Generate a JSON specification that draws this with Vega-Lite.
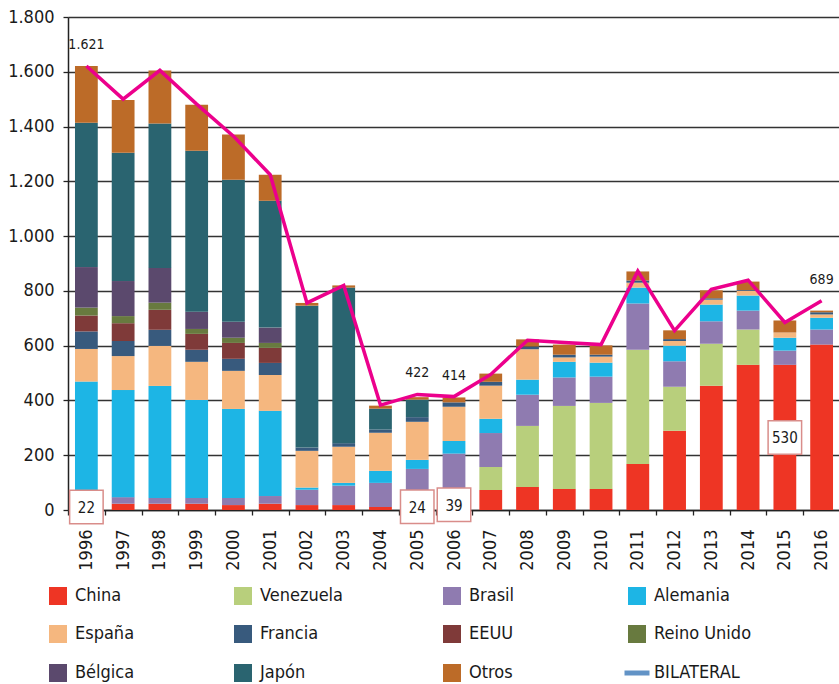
{
  "$schema": "https://vega.github.io/schema/vega-lite/v6.json",
  "autosize": "none",
  "padding": {"left": 68, "top": 17, "right": 0, "bottom": 174},
  "width": 772,
  "height": 493,
  "config": {
    "font": "DejaVu Sans Condensed, DejaVu Sans, sans-serif",
    "view": {"stroke": null},
    "locale": {"number": {"decimal": ",", "thousands": ".", "grouping": [3], "currency": ["", " €"]}}
  },
  "datasets": {
    "trade": [
      {"year": "1996", "country": "China", "value": 22}, {"year": "1996", "country": "Brasil", "value": 25}, {"year": "1996", "country": "Alemania", "value": 422}, {"year": "1996", "country": "España", "value": 119}, {"year": "1996", "country": "Francia", "value": 64}, {"year": "1996", "country": "EEUU", "value": 58}, {"year": "1996", "country": "Reino Unido", "value": 29}, {"year": "1996", "country": "Bélgica", "value": 148}, {"year": "1996", "country": "Japón", "value": 527}, {"year": "1996", "country": "Otros", "value": 207},
      {"year": "1997", "country": "China", "value": 23}, {"year": "1997", "country": "Brasil", "value": 24}, {"year": "1997", "country": "Alemania", "value": 391}, {"year": "1997", "country": "España", "value": 124}, {"year": "1997", "country": "Francia", "value": 55}, {"year": "1997", "country": "EEUU", "value": 65}, {"year": "1997", "country": "Reino Unido", "value": 26}, {"year": "1997", "country": "Bélgica", "value": 128}, {"year": "1997", "country": "Japón", "value": 468}, {"year": "1997", "country": "Otros", "value": 193},
      {"year": "1998", "country": "China", "value": 23}, {"year": "1998", "country": "Brasil", "value": 21}, {"year": "1998", "country": "Alemania", "value": 409}, {"year": "1998", "country": "España", "value": 146}, {"year": "1998", "country": "Francia", "value": 59}, {"year": "1998", "country": "EEUU", "value": 73}, {"year": "1998", "country": "Reino Unido", "value": 26}, {"year": "1998", "country": "Bélgica", "value": 127}, {"year": "1998", "country": "Japón", "value": 527}, {"year": "1998", "country": "Otros", "value": 194},
      {"year": "1999", "country": "China", "value": 23}, {"year": "1999", "country": "Brasil", "value": 21}, {"year": "1999", "country": "Alemania", "value": 358}, {"year": "1999", "country": "España", "value": 139}, {"year": "1999", "country": "Francia", "value": 44}, {"year": "1999", "country": "EEUU", "value": 58}, {"year": "1999", "country": "Reino Unido", "value": 18}, {"year": "1999", "country": "Bélgica", "value": 63}, {"year": "1999", "country": "Japón", "value": 588}, {"year": "1999", "country": "Otros", "value": 168},
      {"year": "2000", "country": "China", "value": 18}, {"year": "2000", "country": "Brasil", "value": 26}, {"year": "2000", "country": "Alemania", "value": 325}, {"year": "2000", "country": "España", "value": 139}, {"year": "2000", "country": "Francia", "value": 44}, {"year": "2000", "country": "EEUU", "value": 58}, {"year": "2000", "country": "Reino Unido", "value": 19}, {"year": "2000", "country": "Bélgica", "value": 58}, {"year": "2000", "country": "Japón", "value": 519}, {"year": "2000", "country": "Otros", "value": 165},
      {"year": "2001", "country": "China", "value": 23}, {"year": "2001", "country": "Brasil", "value": 28}, {"year": "2001", "country": "Alemania", "value": 311}, {"year": "2001", "country": "España", "value": 131}, {"year": "2001", "country": "Francia", "value": 44}, {"year": "2001", "country": "EEUU", "value": 55}, {"year": "2001", "country": "Reino Unido", "value": 18}, {"year": "2001", "country": "Bélgica", "value": 56}, {"year": "2001", "country": "Japón", "value": 463}, {"year": "2001", "country": "Otros", "value": 95},
      {"year": "2002", "country": "China", "value": 18}, {"year": "2002", "country": "Brasil", "value": 56}, {"year": "2002", "country": "Alemania", "value": 8}, {"year": "2002", "country": "España", "value": 134}, {"year": "2002", "country": "Francia", "value": 12}, {"year": "2002", "country": "Japón", "value": 518}, {"year": "2002", "country": "Otros", "value": 10},
      {"year": "2003", "country": "China", "value": 18}, {"year": "2003", "country": "Brasil", "value": 71}, {"year": "2003", "country": "Alemania", "value": 10}, {"year": "2003", "country": "España", "value": 132}, {"year": "2003", "country": "Francia", "value": 13}, {"year": "2003", "country": "Japón", "value": 568}, {"year": "2003", "country": "Otros", "value": 8},
      {"year": "2004", "country": "China", "value": 11}, {"year": "2004", "country": "Brasil", "value": 88}, {"year": "2004", "country": "Alemania", "value": 44}, {"year": "2004", "country": "España", "value": 139}, {"year": "2004", "country": "Francia", "value": 12}, {"year": "2004", "country": "Japón", "value": 76}, {"year": "2004", "country": "Otros", "value": 11},
      {"year": "2005", "country": "China", "value": 24}, {"year": "2005", "country": "Brasil", "value": 126}, {"year": "2005", "country": "Alemania", "value": 33}, {"year": "2005", "country": "España", "value": 139}, {"year": "2005", "country": "Francia", "value": 17}, {"year": "2005", "country": "Japón", "value": 64}, {"year": "2005", "country": "Otros", "value": 9},
      {"year": "2006", "country": "China", "value": 39}, {"year": "2006", "country": "Brasil", "value": 167}, {"year": "2006", "country": "Alemania", "value": 46}, {"year": "2006", "country": "España", "value": 125}, {"year": "2006", "country": "Francia", "value": 16}, {"year": "2006", "country": "Otros", "value": 18},
      {"year": "2007", "country": "China", "value": 73}, {"year": "2007", "country": "Venezuela", "value": 84}, {"year": "2007", "country": "Brasil", "value": 124}, {"year": "2007", "country": "Alemania", "value": 52}, {"year": "2007", "country": "España", "value": 121}, {"year": "2007", "country": "Francia", "value": 14}, {"year": "2007", "country": "Otros", "value": 30},
      {"year": "2008", "country": "China", "value": 84}, {"year": "2008", "country": "Venezuela", "value": 223}, {"year": "2008", "country": "Brasil", "value": 114}, {"year": "2008", "country": "Alemania", "value": 55}, {"year": "2008", "country": "España", "value": 111}, {"year": "2008", "country": "Francia", "value": 10}, {"year": "2008", "country": "Otros", "value": 26},
      {"year": "2009", "country": "China", "value": 77}, {"year": "2009", "country": "Venezuela", "value": 303}, {"year": "2009", "country": "Brasil", "value": 104}, {"year": "2009", "country": "Alemania", "value": 57}, {"year": "2009", "country": "España", "value": 16}, {"year": "2009", "country": "Francia", "value": 10}, {"year": "2009", "country": "Otros", "value": 37},
      {"year": "2010", "country": "China", "value": 77}, {"year": "2010", "country": "Venezuela", "value": 314}, {"year": "2010", "country": "Brasil", "value": 96}, {"year": "2010", "country": "Alemania", "value": 51}, {"year": "2010", "country": "España", "value": 22}, {"year": "2010", "country": "Francia", "value": 7}, {"year": "2010", "country": "Otros", "value": 34},
      {"year": "2011", "country": "China", "value": 168}, {"year": "2011", "country": "Venezuela", "value": 417}, {"year": "2011", "country": "Brasil", "value": 169}, {"year": "2011", "country": "Alemania", "value": 58}, {"year": "2011", "country": "España", "value": 18}, {"year": "2011", "country": "Francia", "value": 8}, {"year": "2011", "country": "Otros", "value": 33},
      {"year": "2012", "country": "China", "value": 289}, {"year": "2012", "country": "Venezuela", "value": 161}, {"year": "2012", "country": "Brasil", "value": 93}, {"year": "2012", "country": "Alemania", "value": 57}, {"year": "2012", "country": "España", "value": 17}, {"year": "2012", "country": "Francia", "value": 7}, {"year": "2012", "country": "Otros", "value": 32},
      {"year": "2013", "country": "China", "value": 454}, {"year": "2013", "country": "Venezuela", "value": 153}, {"year": "2013", "country": "Brasil", "value": 82}, {"year": "2013", "country": "Alemania", "value": 61}, {"year": "2013", "country": "España", "value": 18}, {"year": "2013", "country": "Francia", "value": 5}, {"year": "2013", "country": "Otros", "value": 29},
      {"year": "2014", "country": "China", "value": 530}, {"year": "2014", "country": "Venezuela", "value": 129}, {"year": "2014", "country": "Brasil", "value": 69}, {"year": "2014", "country": "Alemania", "value": 55}, {"year": "2014", "country": "España", "value": 17}, {"year": "2014", "country": "Francia", "value": 3}, {"year": "2014", "country": "Otros", "value": 31},
      {"year": "2015", "country": "China", "value": 530}, {"year": "2015", "country": "Brasil", "value": 52}, {"year": "2015", "country": "Alemania", "value": 47}, {"year": "2015", "country": "España", "value": 19}, {"year": "2015", "country": "Otros", "value": 44},
      {"year": "2016", "country": "China", "value": 604}, {"year": "2016", "country": "Brasil", "value": 55}, {"year": "2016", "country": "Alemania", "value": 43}, {"year": "2016", "country": "España", "value": 12}, {"year": "2016", "country": "Francia", "value": 8}, {"year": "2016", "country": "Otros", "value": 6}
    ],
    "bilateral": [
      {"year": "1996", "total": 1621, "label": 1621}, {"year": "1997", "total": 1500}, {"year": "1998", "total": 1605}, {"year": "1999", "total": 1482}, {"year": "2000", "total": 1365}, {"year": "2001", "total": 1224}, {"year": "2002", "total": 756}, {"year": "2003", "total": 820}, {"year": "2004", "total": 383}, {"year": "2005", "total": 422, "label": 422}, {"year": "2006", "total": 414, "label": 414}, {"year": "2007", "total": 495}, {"year": "2008", "total": 620}, {"year": "2009", "total": 612}, {"year": "2010", "total": 604}, {"year": "2011", "total": 872}, {"year": "2012", "total": 655}, {"year": "2013", "total": 806}, {"year": "2014", "total": 839}, {"year": "2015", "total": 685}, {"year": "2016", "total": 764, "label": 689}
    ]
  },
  "encoding": {
    "x": {
      "field": "year", "type": "ordinal",
      "scale": {"type": "band", "paddingInner": 0, "paddingOuter": 0},
      "axis": {"title": null, "labelAngle": -90, "labelFontSize": 18, "labelColor": "#1a1a1a", "tickBand": "extent", "tickSize": 5, "tickColor": "#222", "tickWidth": 1.3, "domainColor": "#222", "domainWidth": 1.5, "labelPadding": 14}
    }
  },
  "layer": [
    {
      "data": {"name": "trade"},
      "transform": [{"calculate": "indexof(['China','Venezuela','Brasil','Alemania','España','Francia','EEUU','Reino Unido','Bélgica','Japón','Otros'], datum.country)", "as": "ord"}],
      "mark": {"type": "bar", "width": {"band": 0.62}},
      "encoding": {
        "y": {
          "field": "value", "type": "quantitative", "aggregate": "sum", "stack": "zero",
          "scale": {"domain": [0, 1800], "nice": false},
          "axis": {"title": null, "values": [0, 200, 400, 600, 800, 1000, 1200, 1400, 1600, 1800], "format": ",d", "labelFontSize": 18, "labelColor": "#1a1a1a", "tickSize": 5, "tickColor": "#222", "tickWidth": 1.3, "domainColor": "#222", "domainWidth": 1.5, "labelPadding": 9, "gridColor": "#333", "gridWidth": 1.3}
        },
        "color": {
          "field": "country", "type": "nominal",
          "scale": {
            "domain": ["China", "Venezuela", "Brasil", "Alemania", "España", "Francia", "EEUU", "Reino Unido", "Bélgica", "Japón", "Otros", "BILATERAL"],
            "range": ["#EE3524", "#B8CF7C", "#8F7BB0", "#1DB5E5", "#F5B77F", "#385A7D", "#7F3A39", "#687A3F", "#5B496D", "#2A6470", "#BC6B28", "#6293C6"]
          },
          "legend": {
            "title": null, "orient": "none", "legendX": -19, "legendY": 570, "direction": "horizontal", "columns": 4, "gridAlign": "each", "columnPadding": 99, "rowPadding": 20,
            "symbolType": "square", "symbolSize": 324, "symbolStrokeWidth": 0, "labelFontSize": 18, "labelColor": "#1a1a1a", "labelOffset": 8, "labelLimit": 300,
            "encode": {
              "symbols": {
                "update": {
                  "shape": {"signal": "datum.value === 'BILATERAL' ? 'stroke' : 'square'"},
                  "stroke": {"signal": "datum.value === 'BILATERAL' ? '#6293C6' : 'transparent'"},
                  "strokeWidth": {"signal": "datum.value === 'BILATERAL' ? 5 : 0"},
                  "size": {"signal": "datum.value === 'BILATERAL' ? 625 : 324"}
                }
              }
            }
          }
        },
        "order": {"field": "ord", "type": "quantitative", "sort": "ascending"}
      }
    },
    {
      "data": {"name": "bilateral"},
      "mark": {"type": "line", "color": "#EC008C", "strokeWidth": 3.5},
      "encoding": {"y": {"field": "total", "type": "quantitative"}}
    },
    {
      "data": {"name": "bilateral"},
      "transform": [{"filter": "datum.label != null"}],
      "mark": {"type": "text", "fontSize": 14, "color": "#1a1a1a", "dy": -21},
      "encoding": {"y": {"field": "total", "type": "quantitative"}, "text": {"field": "label", "type": "quantitative", "format": ",d"}}
    },
    {
      "data": {"name": "trade"},
      "transform": [{"filter": "datum.country === 'China' && indexof(['1996','2005','2006','2015'], datum.year) >= 0"}],
      "mark": {"type": "point", "shape": "square", "size": 1122, "filled": true, "fill": "white", "stroke": "#D98D8A", "strokeWidth": 1.5, "opacity": 1},
      "encoding": {"y": {"field": "value", "type": "quantitative", "stack": "zero", "bandPosition": 0.5}, "detail": {"field": "country"}}
    },
    {
      "data": {"name": "trade"},
      "transform": [{"filter": "datum.country === 'China' && indexof(['1996','2005','2006','2015'], datum.year) >= 0"}],
      "mark": {"type": "text", "fontSize": 15, "color": "#1a1a1a", "dy": 1},
      "encoding": {"y": {"field": "value", "type": "quantitative", "stack": "zero", "bandPosition": 0.5}, "detail": {"field": "country"}, "text": {"field": "value", "type": "quantitative"}}
    }
  ]
}
